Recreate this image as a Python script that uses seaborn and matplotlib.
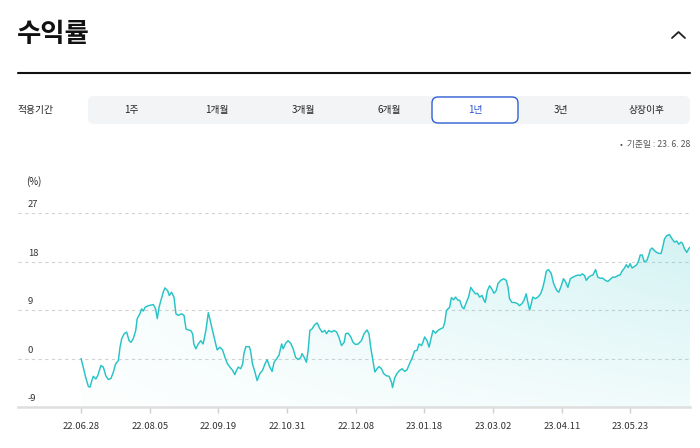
import numpy as np
import pandas as pd
import matplotlib
matplotlib.use("Agg")
import matplotlib.pyplot as plt
import seaborn as sns
from matplotlib.patches import FancyBboxPatch
from matplotlib.lines import Line2D

# ---------------- data ----------------
day = [0.0, 0.9, 1.9, 3.0, 3.7, 4.4, 5.0, 6.0, 6.8, 8.1, 9.1, 10.1, 11.1, 12.2, 13.2, 14.1, 15.2, 15.9,
       16.6, 17.6, 18.6, 19.6, 20.4, 21.3, 22.3, 22.9, 24.0, 24.7, 25.4, 26.1, 27.4, 29.5, 30.4, 31.1,
       31.8, 32.6, 33.5, 34.2, 35.3, 36.0, 36.9, 37.9,
       38.7, 39.6, 41.0, 42.0, 42.8, 43.7, 44.7, 45.5, 46.0, 46.8, 47.8, 48.8, 49.8, 50.9, 51.9, 52.5,
       53.6, 54.6, 55.5, 56.6, 57.7, 58.7, 59.6, 60.7, 61.8, 62.7, 63.4, 64.1, 65.1, 65.9, 66.4, 67.2,
       68.6, 69.1, 69.9, 70.9, 71.8, 72.9, 74.0, 75.0, 75.9, 76.7,
       77.9, 78.7, 79.7, 80.7, 81.8, 82.4, 83.4, 84.4, 85.5, 86.5, 87.5, 88.5, 89.6, 90.1, 91.0, 91.9,
       92.6, 93.3, 94.2, 95.3, 96.3, 97.4, 98.3, 99.4, 100.1, 101.0, 102.1, 103.2, 104.2, 105.1, 106.2,
       107.3, 107.9, 108.9, 110.0, 110.9, 111.9, 113.0, 114.3, 115.4,
       116.6, 117.4, 118.1, 118.8, 119.8, 120.7, 121.5, 122.5, 123.4, 124.5, 125.6, 126.6, 127.0, 127.9,
       128.8, 129.9, 130.9, 132.0, 132.9, 134.0, 135.1, 136.0, 137.0, 137.8, 138.8, 139.4, 140.1, 141.1,
       141.9, 142.6, 143.5, 144.6, 145.5, 146.6, 147.6, 148.3, 149.0, 149.6, 150.3, 151.0, 151.9, 152.7,
       153.7,
       154.4, 155.3, 156.1, 157.1, 158.0, 158.9, 159.8, 160.8, 161.6, 162.5, 163.5, 164.3, 164.8, 165.7,
       166.6, 167.5, 168.4, 169.3, 170.0, 171.1, 172.4, 173.4, 174.1, 174.7, 175.7, 176.8, 177.9, 178.8,
       179.8, 180.6, 181.5, 182.2, 182.9, 183.6, 184.2, 185.2, 186.3, 187.4, 188.3, 189.0, 189.7, 190.6,
       191.7, 192.7,
       193.1, 194.0, 194.8, 195.8, 196.7, 197.6, 198.5, 199.5, 200.5, 201.6, 202.6, 203.5, 204.4, 205.3,
       206.0, 207.0, 208.0, 208.7, 209.8, 210.7, 211.7, 212.7, 213.8, 214.8, 215.8, 216.8, 217.9, 218.9,
       219.8, 220.7, 221.6, 222.3, 223.1, 223.9, 224.7, 225.7, 226.6, 227.4, 228.0, 228.8, 229.7, 230.7,
       231.5,
       232.1, 232.9, 233.8, 234.7, 235.6, 236.5, 237.2, 237.9, 238.8, 239.9, 241.0, 242.0, 242.9, 243.7,
       244.7, 245.3, 246.0, 247.0, 247.8, 248.4]
ret = [0.0, -1.6, -3.5, -5.2, -5.3, -4.1, -3.3, -3.8, -3.2, -1.3, -1.6, -3.2, -3.9, -3.7, -2.5, -1.0, -0.4, 2.1,
       3.7, 4.6, 4.9, 3.3, 3.0, 3.7, 5.2, 7.4, 8.3, 9.2, 8.8, 9.5, 9.8, 10.0, 9.2, 7.4,
       9.5, 10.8, 12.3, 13.1, 12.6, 11.7, 12.3, 11.4,
       8.3, 8.0, 8.3, 8.0, 5.5, 5.3, 5.2, 4.6, 2.7, 1.8, 2.7, 3.3, 2.7, 5.2, 8.5, 7.4,
       5.2, 3.3, 1.6, 2.1, 1.6, 0.2, -0.9, -1.6, -2.2, -3.0, -2.2, -1.6, -1.9, -1.0, 0.9, 2.2,
       2.2, 1.5, -1.0, -2.5, -4.1, -2.8, -2.2, -1.0, -0.2, -1.3,
       -2.4, -0.7, -0.1, 0.6, 2.7, 1.8, 2.8, 3.3, 2.8, 1.8, 0.2, -0.2, 0.2, 0.9, 0.2, -0.7,
       1.5, 5.2, 5.5, 6.3, 6.6, 5.5, 4.9, 5.2, 4.6, 5.2, 4.9, 5.2, 4.9, 4.0, 2.4,
       3.0, 4.6, 4.7, 4.0, 3.0, 2.6, 2.7, 3.3, 4.6,
       5.3, 4.6, 2.1, 0.2, -2.5, -1.9, -1.5, -1.9, -2.8, -3.2, -3.3, -4.4, -5.4, -3.6,
       -2.8, -2.2, -1.9, -2.4, -2.1, -0.9, 0.2, 1.4, 1.5, 2.7, 2.4, 3.0, 4.0, 3.3,
       2.1, 3.5, 5.2, 4.7, 5.2, 5.5, 5.7, 6.7, 8.9, 9.2, 9.5, 11.3, 10.9, 11.4,
       10.8,
       10.8, 9.6, 9.2, 10.4, 11.4, 13.2, 12.6, 12.0, 12.1, 11.4, 11.7, 10.8, 10.4, 12.6,
       13.5, 12.9, 12.1, 12.6, 13.9, 14.5, 14.8, 14.5, 13.2, 11.1, 10.4, 10.4, 10.2, 9.8,
       10.2, 10.8, 12.0, 10.4, 9.0, 10.2, 11.4, 11.1, 11.4, 12.0, 13.2, 14.5, 16.2, 16.5,
       15.8, 13.9,
       13.5, 12.6, 12.3, 13.5, 14.8, 14.2, 13.2, 14.8, 15.1, 15.3, 15.5, 15.4, 15.7, 15.4,
       14.5, 15.1, 15.4, 15.5, 16.5, 15.1, 14.9, 14.9, 14.5, 14.3, 14.7, 15.1, 15.1, 15.4,
       15.5, 16.3, 16.8, 17.4, 16.9, 17.6, 16.8, 17.1, 17.4, 18.2, 19.2, 19.2, 17.9, 18.2,
       19.2,
       20.2, 20.5, 20.0, 19.7, 19.5, 19.5, 20.7, 22.2, 22.8, 23.0, 22.2, 21.6, 21.8, 21.2,
       21.6, 21.3, 20.4, 19.7, 20.4, 20.7]

tick_days = [0, 28, 56, 84, 112, 140, 168, 196, 224]
tick_labels = ["22.06.28", "22.08.05", "22.09.19", "22.10.31", "22.12.08",
               "23.01.18", "23.03.02", "23.04.11", "23.05.23"]
y_levels = [-9, 0, 9, 18, 27]
periods = ["1주", "1개월", "3개월", "6개월", "1년", "3년", "상장이후"]
selected = "1년"

df = pd.DataFrame({"day": day, "ret": ret})

# ---------------- style ----------------
sns.set_theme(style="white")
plt.rcParams["font.family"] = ["Noto Sans CJK KR", "DejaVu Sans"]

W, H = 700, 448
fig = plt.figure(figsize=(7, 4.48), dpi=100)
fig.patch.set_facecolor("white")

def fx(px):
    return px / W

def fy(py):
    return 1 - py / H

ax = fig.add_axes([fx(18), fy(407), fx(690) - fx(18), fy(213) - fy(407)])
ax.set_facecolor("white")

LINE = "#27c3c6"
XMIN, XMAX = -25.7, 248.3
YMIN, YMAX = -9, 27

# gradient fill under the line
poly = ax.fill_between(df["day"], df["ret"], YMIN, color="none", lw=0)
nx, ny = 300, 200
xf = np.linspace(0, 1, nx)[None, :]
yf = np.linspace(0, 1, ny)[:, None]
alpha = (0.04 + 0.23 * xf) * (0.3 + 0.7 * yf)
grad = np.zeros((ny, nx, 4))
grad[..., 0] = 0.30
grad[..., 1] = 0.80
grad[..., 2] = 0.82
grad[..., 3] = alpha
im = ax.imshow(grad, extent=[df["day"].min(), df["day"].max(), YMIN, YMAX],
               aspect="auto", origin="lower", zorder=1, interpolation="bilinear")
im.set_clip_path(poly.get_paths()[0], transform=ax.transData)

sns.lineplot(data=df, x="day", y="ret", ax=ax, color=LINE, lw=1.05,
             estimator=None, sort=False, zorder=3)

ax.set_xlim(XMIN, XMAX)
ax.set_ylim(YMIN, YMAX)
ax.set_xlabel("")
ax.set_ylabel("")

# gridlines
for v in y_levels[1:]:
    ax.axhline(v, color="#d2d2d2", lw=0.8, ls=(0, (3, 3)), zorder=0.5)

for s in ["top", "right", "left"]:
    ax.spines[s].set_visible(False)
ax.spines["bottom"].set_color("#dedede")
ax.spines["bottom"].set_linewidth(1.8)

ax.set_yticks([])
ax.set_xticks(tick_days)
ax.set_xticklabels(tick_labels)
ax.tick_params(axis="x", length=4, width=1, color="#d0d0d0", labelsize=6.8,
               labelcolor="#333333", pad=7, bottom=True, direction="out")

# y labels above gridlines
ytrans = ax.get_yaxis_transform()
for v in y_levels:
    ax.annotate(str(v), xy=(10 / 672, v), xycoords=ytrans,
                xytext=(0, 4), textcoords="offset pixels", ha="left", va="bottom",
                fontsize=6.8, color="#333333")
fig.text(fx(26), fy(182), "(%)", fontsize=7, color="#222222", ha="left", va="center")

# ---------------- header ----------------
fig.text(fx(17), fy(35), "수익률", fontsize=19, fontweight="bold", color="#111111",
         ha="left", va="center")
fig.add_artist(Line2D([fx(672), fx(678.5), fx(685)], [fy(38), fy(32), fy(38)],
                      color="#222222", lw=1.3, transform=fig.transFigure))
fig.add_artist(Line2D([fx(18), fx(690)], [fy(73), fy(73)], color="#111111", lw=1.5,
                      transform=fig.transFigure))

fig.text(fx(18), fy(110), "적용기간", fontsize=7, color="#222222", ha="left", va="center",
         fontweight="medium")

# button bar (in inches)
inch = fig.dpi_scale_trans
bar = FancyBboxPatch((88 / 100, (H - 124) / 100), (690 - 88) / 100, 28 / 100,
                     boxstyle="round,pad=0,rounding_size=0.06", transform=inch,
                     facecolor="#f3f4f6", edgecolor="none")
fig.add_artist(bar)
seg = (690 - 88) / len(periods)
for i, p in enumerate(periods):
    cx = 88 + seg * (i + 0.5)
    if p == selected:
        box = FancyBboxPatch(((cx - 43) / 100, (H - 123) / 100), 86 / 100, 26 / 100,
                             boxstyle="round,pad=0,rounding_size=0.06", transform=inch,
                             facecolor="white", edgecolor="#2f5fd6", lw=1.0)
        fig.add_artist(box)
        fig.text(fx(cx), fy(110), p, fontsize=7, color="#2552d0", ha="center", va="center")
    else:
        fig.text(fx(cx), fy(110), p, fontsize=7, color="#222222", ha="center", va="center")

fig.text(fx(690), fy(145), "•  기준일 : 23. 6. 28", fontsize=6.3, color="#555555",
         ha="right", va="center")

fig.savefig("out.png", dpi=100, facecolor="white")
